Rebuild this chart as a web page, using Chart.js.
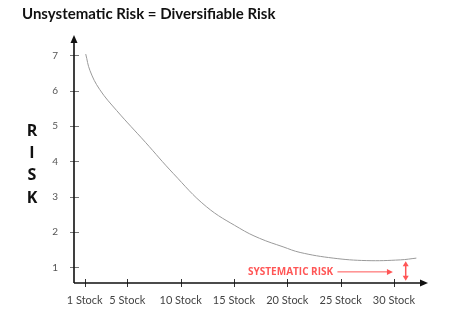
<!DOCTYPE html>
<html>
<head>
<meta charset="utf-8">
<script src="https://cdn.jsdelivr.net/npm/chart.js@4.4.1/dist/chart.umd.min.js"></script>
<style>
  html, body { margin: 0; padding: 0; background: #fff; }
  #wrap { width: 458px; height: 324px; }
</style>
</head>
<body>
<div id="wrap"><canvas id="risk" width="458" height="324"></canvas></div>
<script>
// data
const stocks = [1.1, 1.5, 2.4, 4.0, 6.7, 9.3, 12.4, 15.5, 17.4, 19.6, 21.2, 24.3, 27.4, 30.6, 32.1];
const riskValues = [7.04, 6.57, 6.04, 5.44, 4.54, 3.66, 2.72, 2.11, 1.82, 1.58, 1.42, 1.26, 1.19, 1.21, 1.26];

const xTickValues = [1, 5, 10, 15, 20, 25, 30];
const xTickLabels = ['1 Stock', '5 Stock', '10 Stock', '15 Stock', '20 Stock', '25 Stock', '30 Stock'];
const yTickValues = [1, 2, 3, 4, 5, 6, 7];

const titleText = 'Unsystematic Risk = Diversifiable Risk';
const axisLetters = ['R', 'I', 'S', 'K'];
const noteText = 'SYSTEMATIC RISK';

const red = '#ff5656';

// axes with arrows, tick marks, RISK letters, systematic risk note
const decor = {
    id: 'decor',
    afterDraw(chart) {
        const { ctx, chartArea: a, scales: { x, y } } = chart;
        ctx.save();

        // tick marks crossing the axes
        ctx.lineWidth = 1;
        ctx.strokeStyle = '#777';
        yTickValues.forEach(v => {
            const py = Math.round(y.getPixelForValue(v)) + 0.5;
            ctx.beginPath();
            ctx.moveTo(a.left - 4, py);
            ctx.lineTo(a.left + 5, py);
            ctx.stroke();
        });
        ctx.strokeStyle = '#333';
        xTickValues.forEach(v => {
            const px = Math.round(x.getPixelForValue(v)) + 0.5;
            ctx.beginPath();
            ctx.moveTo(px, a.bottom - 4);
            ctx.lineTo(px, a.bottom + 4);
            ctx.stroke();
        });

        // axis lines
        ctx.strokeStyle = '#111';
        ctx.fillStyle = '#111';
        ctx.lineWidth = 1.6;
        ctx.beginPath();
        ctx.moveTo(a.left, a.bottom);
        ctx.lineTo(a.left, a.top + 6);
        ctx.moveTo(a.left, a.bottom);
        ctx.lineTo(a.right - 6, a.bottom);
        ctx.stroke();
        // arrow heads
        ctx.beginPath();
        ctx.moveTo(a.left, a.top);
        ctx.lineTo(a.left - 3.5, a.top + 8);
        ctx.lineTo(a.left + 3.5, a.top + 8);
        ctx.closePath();
        ctx.fill();
        ctx.beginPath();
        ctx.moveTo(a.right, a.bottom);
        ctx.lineTo(a.right - 8, a.bottom - 3.5);
        ctx.lineTo(a.right - 8, a.bottom + 3.5);
        ctx.closePath();
        ctx.fill();

        // R I S K
        ctx.font = 'bold 16px "Open Sans", sans-serif';
        ctx.textAlign = 'center';
        ctx.textBaseline = 'middle';
        ctx.fillStyle = '#111';
        const top = y.getPixelForValue(4.86);
        axisLetters.forEach((ch, i) => ctx.fillText(ch, 32, top + i * 22.4));

        // systematic risk note
        const ny = y.getPixelForValue(0.87);
        ctx.font = 'bold 10px "Open Sans", sans-serif';
        ctx.fillStyle = red;
        ctx.textAlign = 'right';
        ctx.fillText(noteText, x.getPixelForValue(24.3), ny + 0.5);

        ctx.strokeStyle = red;
        ctx.lineWidth = 1;
        const ax0 = x.getPixelForValue(24.7), ax1 = x.getPixelForValue(29.9);
        ctx.beginPath();
        ctx.moveTo(ax0, ny);
        ctx.lineTo(ax1 - 5, ny);
        ctx.stroke();
        ctx.beginPath();
        ctx.moveTo(ax1, ny);
        ctx.lineTo(ax1 - 6, ny - 3);
        ctx.lineTo(ax1 - 6, ny + 3);
        ctx.closePath();
        ctx.fill();

        // double arrow between curve floor and axis
        const dx = x.getPixelForValue(31.1);
        const dy0 = y.getPixelForValue(1.17), dy1 = y.getPixelForValue(0.62);
        ctx.lineWidth = 1.5;
        ctx.beginPath();
        ctx.moveTo(dx, dy0 + 4);
        ctx.lineTo(dx, dy1 - 4);
        ctx.stroke();
        ctx.beginPath();
        ctx.moveTo(dx, dy0);
        ctx.lineTo(dx - 3, dy0 + 5);
        ctx.lineTo(dx + 3, dy0 + 5);
        ctx.closePath();
        ctx.fill();
        ctx.beginPath();
        ctx.moveTo(dx, dy1);
        ctx.lineTo(dx - 3, dy1 - 5);
        ctx.lineTo(dx + 3, dy1 - 5);
        ctx.closePath();
        ctx.fill();

        ctx.restore();
    }
};

const ctx = document.getElementById('risk').getContext('2d');
const chart = new Chart(ctx, {
    type: 'line',
    data: {
        datasets: [{
            label: 'Risk',
            data: stocks.map((s, i) => ({ x: s, y: riskValues[i] })),
            borderColor: '#9a9a9a',
            borderWidth: 1,
            pointRadius: 0,
            fill: false,
            tension: 0.4
        }]
    },
    options: {
        responsive: false,
        animation: false,
        devicePixelRatio: 1,
        layout: { padding: { left: 22, right: 30, top: 0, bottom: 0 } },
        scales: {
            x: {
                type: 'linear',
                min: 0,
                max: 33.19,
                grid: { display: false, drawTicks: false },
                border: { display: false },
                afterBuildTicks: s => { s.ticks = xTickValues.map(v => ({ value: v })); },
                afterFit: s => { s.height = 41; },
                ticks: {
                    padding: 11,
                    maxRotation: 0,
                    autoSkip: false,
                    color: '#444',
                    font: { family: 'Lato, sans-serif', size: 11 },
                    callback: v => xTickLabels[xTickValues.indexOf(v)]
                }
            },
            y: {
                min: 0.555,
                max: 7.58,
                grid: { display: false, drawTicks: false },
                border: { display: false },
                afterBuildTicks: s => { s.ticks = yTickValues.map(v => ({ value: v })); },
                afterFit: s => { s.width = 52; },
                ticks: {
                    padding: 16,
                    color: '#555',
                    font: { family: 'Lato, sans-serif', size: 10 }
                }
            }
        },
        plugins: {
            legend: { display: false },
            tooltip: { enabled: false },
            title: {
                display: true,
                text: titleText,
                align: 'start',
                color: '#111',
                font: { family: 'Lato, sans-serif', size: 15, weight: 'bold', lineHeight: 1.2 },
                padding: { top: 5, bottom: 12 }
            }
        }
    },
    plugins: [decor]
});
</script>
</body>
</html>
